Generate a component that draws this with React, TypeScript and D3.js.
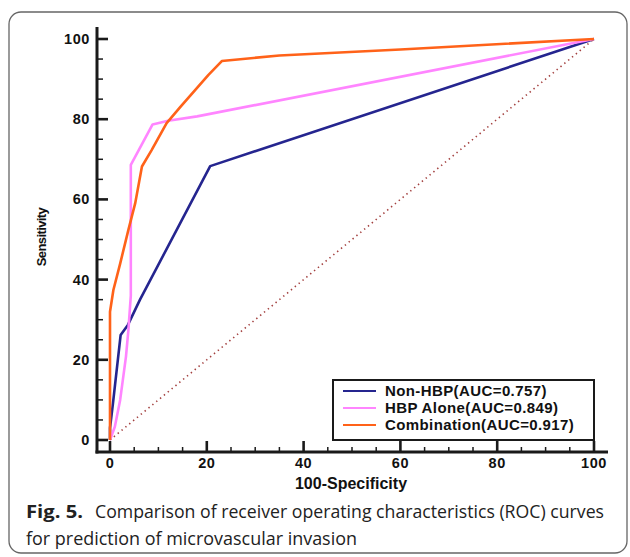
import React from "react";
import * as d3 from "d3";

// ROC curves (x = 100-Specificity, y = Sensitivity)
const nonHbpX = [0, 0, 0.6, 2.2, 3.7, 6.2, 20.7, 100];
const nonHbpY = [0, 3, 9, 26.2, 28.7, 35, 68.3, 100];

const hbpAloneX = [0, 1, 2.1, 3.3, 3.8, 4.3, 4.3, 8.8, 12, 18, 100];
const hbpAloneY = [0, 3.3, 10, 20.8, 27.4, 36, 68.6, 78.7, 79.6, 80.7, 100];

const combinationX = [0, 0, 0.7, 2.1, 3.8, 5.2, 6.6, 8.6, 11.7, 14.5, 20.3, 23.1, 35, 60, 100];
const combinationY = [0, 32, 37.4, 44, 52.4, 59, 68.2, 72.3, 79, 83, 91, 94.5, 95.9, 97.4, 100];

const seriesNames = ["Non-HBP(AUC=0.757)", "HBP Alone(AUC=0.849)", "Combination(AUC=0.917)"];
const seriesColors = ["#25258f", "#ff85ff", "#ff6219"];

const majorTicks = [0, 20, 40, 60, 80, 100];
const minorTicks = d3.range(0, 101, 5);

const W = 630;
const H = 557;

export default function App() {
  const x = d3.scaleLinear().domain([0, 100]).range([110, 594]);
  const y = d3.scaleLinear().domain([0, 100]).range([440, 39]);

  const yAxisX = 97;
  const xAxisY = 452;

  const line = d3
    .line<[number, number]>()
    .x((d) => x(d[0]))
    .y((d) => y(d[1]));

  const series = [
    d3.zip(nonHbpX, nonHbpY) as [number, number][],
    d3.zip(hbpAloneX, hbpAloneY) as [number, number][],
    d3.zip(combinationX, combinationY) as [number, number][],
  ];

  const tickFont = "Arial, 'Liberation Sans', sans-serif";
  const capFont = "'Open Sans', 'Noto Sans', sans-serif";

  return (
    <svg
      width={W}
      height={H}
      style={{ position: "absolute", left: 0, top: 0, background: "#fff" }}
    >
      {/* frame */}
      <rect x={9} y={12} width={618} height={541} rx={12} fill="none" stroke="#666" strokeWidth={1.3} />

      {/* diagonal reference */}
      <line
        x1={x(0)}
        y1={y(0)}
        x2={x(100)}
        y2={y(100)}
        stroke="#a3403f"
        strokeWidth={1.6}
        strokeDasharray="1.4,3.6"
      />

      {/* curves */}
      {series.map((s, i) => (
        <path
          key={i}
          d={line(s) || ""}
          fill="none"
          stroke={seriesColors[i]}
          strokeWidth={2.6}
          strokeLinejoin="round"
        />
      ))}

      {/* y axis */}
      <line x1={yAxisX} y1={27} x2={yAxisX} y2={xAxisY + 1.5} stroke="#1a1a1a" strokeWidth={3} />
      {minorTicks.map((t) => (
        <line
          key={"ym" + t}
          x1={yAxisX}
          x2={yAxisX + (t % 20 === 0 ? 11 : 6)}
          y1={y(t)}
          y2={y(t)}
          stroke="#1a1a1a"
          strokeWidth={t % 20 === 0 ? 2.6 : 1.5}
        />
      ))}
      {majorTicks.map((t) => (
        <text
          key={"yl" + t}
          x={yAxisX - 7}
          y={y(t) + 5}
          textAnchor="end"
          fontFamily={tickFont}
          fontWeight="bold"
          fontSize={14.5}
          letterSpacing={0.6}
          fill="#111"
        >
          {t}
        </text>
      ))}

      {/* x axis */}
      <line x1={yAxisX - 1.5} y1={xAxisY} x2={608} y2={xAxisY} stroke="#1a1a1a" strokeWidth={3} />
      {minorTicks.map((t) => (
        <line
          key={"xm" + t}
          x1={x(t)}
          x2={x(t)}
          y1={xAxisY}
          y2={xAxisY - (t % 20 === 0 ? 11 : 5)}
          stroke="#1a1a1a"
          strokeWidth={t % 20 === 0 ? 2.6 : 1.5}
        />
      ))}
      {majorTicks.map((t) => (
        <text
          key={"xl" + t}
          x={x(t)}
          y={xAxisY + 16}
          textAnchor="middle"
          fontFamily={tickFont}
          fontWeight="bold"
          fontSize={14.5}
          letterSpacing={0.6}
          fill="#111"
        >
          {t}
        </text>
      ))}

      {/* axis titles */}
      <text
        x={351}
        y={489}
        textAnchor="middle"
        fontFamily={tickFont}
        fontWeight="bold"
        fontSize={16}
        fill="#111"
      >
        100-Specificity
      </text>
      <text
        transform={`translate(46,${237}) rotate(-90)`}
        textAnchor="middle"
        fontFamily={tickFont}
        fontWeight="bold"
        fontSize={13}
        letterSpacing={-0.6}
        fill="#111"
      >
        Sensitivity
      </text>

      {/* legend */}
      <rect x={333} y={380} width={261} height={60} fill="#fff" stroke="#1a1a1a" strokeWidth={2} />
      {seriesNames.map((name, i) => (
        <g key={name}>
          <line
            x1={343}
            x2={376}
            y1={391 + i * 17}
            y2={391 + i * 17}
            stroke={seriesColors[i]}
            strokeWidth={2}
          />
          <text
            x={385}
            y={396 + i * 17}
            fontFamily={tickFont}
            fontWeight="bold"
            fontSize={15}
            letterSpacing={0.4}
            fill="#111"
          >
            {name}
          </text>
        </g>
      ))}

      {/* caption */}
      <text
        x={26}
        y={518}
        fontFamily={capFont}
        fontWeight="bold"
        fontSize={18.5}
        fill="#222"
        textLength={57}
        lengthAdjust="spacingAndGlyphs"
      >
        Fig. 5.
      </text>
      <text
        x={95}
        y={518}
        fontFamily={capFont}
        fontSize={18}
        fill="#222"
        textLength={509}
        lengthAdjust="spacingAndGlyphs"
      >
        Comparison of receiver operating characteristics (ROC) curves
      </text>
      <text
        x={26}
        y={545}
        fontFamily={capFont}
        fontSize={18}
        fill="#222"
        textLength={331}
        lengthAdjust="spacingAndGlyphs"
      >
        for prediction of microvascular invasion
      </text>
    </svg>
  );
}
